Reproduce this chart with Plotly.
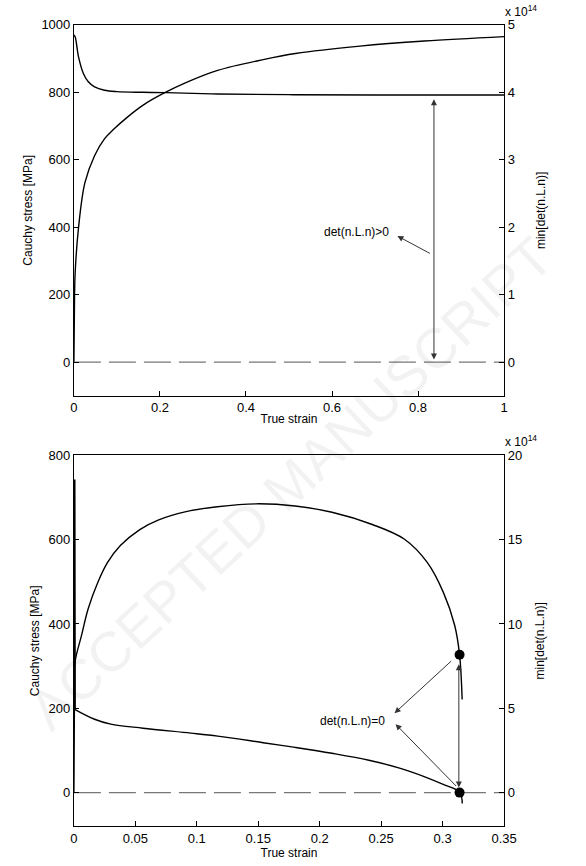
import plotly.graph_objects as go

# ---------------- data ----------------
# Top panel (strain 0..1)
top_stress_strain = [0, 0.0015, 0.003, 0.0106, 0.0256, 0.048, 0.071, 0.093, 0.123, 0.161, 0.21, 0.259, 0.334, 0.44, 0.515, 0.665, 0.815, 1.0]
top_stress = [0, 200, 268, 397, 532, 612, 662, 691, 725, 762, 798, 828, 865, 897, 915, 937, 952, 965]
top_det_strain = [0, 0.003, 0.0106, 0.022, 0.033, 0.048, 0.071, 0.1, 0.161, 0.214, 0.334, 0.5, 0.7, 1.0]
top_det = [4.85, 4.82, 4.53, 4.28, 4.16, 4.08, 4.03, 4.01, 4.0, 3.995, 3.975, 3.965, 3.96, 3.96]  # x 1e14

# Bottom panel (strain 0..0.35)
bot_stress_strain = [0, 0.0005, 0.001, 0.0063, 0.0116, 0.0195, 0.0274, 0.0378, 0.0536, 0.069, 0.0904, 0.1167, 0.148, 0.18, 0.21, 0.2428, 0.269, 0.2875, 0.3006, 0.3098, 0.3138, 0.3159]
bot_stress = [0, 250, 311, 374, 436, 499, 546, 586, 624, 647, 666, 678, 685, 680, 665, 636, 601, 546, 475, 397, 327, 221]
bot_det_strain = [0, 0.0003, 0.0006, 0.0168, 0.03, 0.0562, 0.095, 0.117, 0.154, 0.18, 0.21, 0.24, 0.265, 0.285, 0.3, 0.3138, 0.316]
bot_det = [18.5, 18.5, 4.94, 4.35, 4.06, 3.82, 3.53, 3.35, 2.96, 2.68, 2.33, 1.92, 1.45, 0.95, 0.5, 0.03, -0.65]  # x 1e14

crit_strain = 0.3138
crit_stress = 327
crit_det = 0.0

top_x_ticks = [0, 0.2, 0.4, 0.6, 0.8, 1]
top_y_ticks = [0, 200, 400, 600, 800, 1000]
top_y2_ticks = [0, 1, 2, 3, 4, 5]
bot_x_ticks = [0, 0.05, 0.1, 0.15, 0.2, 0.25, 0.3, 0.35]
bot_y_ticks = [0, 200, 400, 600, 800]
bot_y2_ticks = [0, 5, 10, 15, 20]

W, H = 586, 866
FONT = "Liberation Sans, Arial, Helvetica, sans-serif"
line = dict(color="black", width=1.4)
dash = dict(color="#777777", width=1.2, dash="27px,8px")
SM = 1.0

fig = go.Figure()

# Top panel traces
fig.add_trace(go.Scatter(x=[0, 1], y=[0, 0], mode="lines", line=dash, xaxis="x", yaxis="y2"))
fig.add_trace(go.Scatter(x=top_stress_strain, y=top_stress, mode="lines", line=line, xaxis="x", yaxis="y",
                         line_shape="spline", line_smoothing=SM))
fig.add_trace(go.Scatter(x=top_det_strain, y=top_det, mode="lines", line=line, xaxis="x", yaxis="y2",
                         line_shape="spline", line_smoothing=SM))

# Bottom panel traces
fig.add_trace(go.Scatter(x=[0, 0.35], y=[0, 0], mode="lines", line=dash, xaxis="x2", yaxis="y4"))
fig.add_trace(go.Scatter(x=bot_stress_strain, y=bot_stress, mode="lines", line=line, xaxis="x2", yaxis="y3",
                         line_shape="spline", line_smoothing=SM))
fig.add_trace(go.Scatter(x=bot_det_strain[:3], y=bot_det[:3], mode="lines",
                         line=dict(color="black", width=2.5), xaxis="x2", yaxis="y4"))
fig.add_trace(go.Scatter(x=bot_det_strain[2:], y=bot_det[2:], mode="lines", line=line, xaxis="x2", yaxis="y4",
                         line_shape="spline", line_smoothing=SM))
fig.add_trace(go.Scatter(x=[crit_strain], y=[crit_stress], mode="markers", marker=dict(color="black", size=10),
                         xaxis="x2", yaxis="y3"))
fig.add_trace(go.Scatter(x=[crit_strain], y=[crit_det], mode="markers", marker=dict(color="black", size=10),
                         xaxis="x2", yaxis="y4"))

xdom = [72 / W, 515 / W]
top_dom = [1 - 392 / H, 1 - 18 / H]
bot_dom = [1 - 826 / H, 1 - 452 / H]

ax_common = dict(showgrid=False, zeroline=False, showline=True, linecolor="black", linewidth=1,
                 ticks="inside", ticklen=5, tickcolor="black",
                 tickfont=dict(family=FONT, size=13, color="black"))

fig.update_layout(
    width=W, height=H, margin=dict(l=0, r=0, t=0, b=0),
    paper_bgcolor="white", plot_bgcolor="rgba(0,0,0,0)", showlegend=False,
    font=dict(family=FONT, size=13, color="black"),
    xaxis=dict(domain=xdom, anchor="y", range=[0, 1], tickvals=top_x_ticks, mirror=True,
               title=dict(text="True strain", font=dict(size=12), standoff=0), **ax_common),
    yaxis=dict(domain=top_dom, anchor="x", range=[-100, 1000], tickvals=top_y_ticks, mirror=True,
               title=dict(text="Cauchy stress [MPa]", font=dict(size=12), standoff=6), **ax_common),
    yaxis2=dict(overlaying="y", side="right", anchor="x", range=[-0.5, 5], tickvals=top_y2_ticks,
                title=dict(text="min[det(n.L.n)]", font=dict(size=12), standoff=22), **ax_common),
    xaxis2=dict(domain=xdom, anchor="y3", range=[0, 0.35], tickvals=bot_x_ticks, mirror=True,
                ticktext=[str(v) for v in bot_x_ticks],
                title=dict(text="True strain", font=dict(size=12), standoff=0), **ax_common),
    yaxis3=dict(domain=bot_dom, anchor="x2", range=[-80, 800], tickvals=bot_y_ticks, mirror=True,
                title=dict(text="Cauchy stress [MPa]", font=dict(size=12), standoff=6), **ax_common),
    yaxis4=dict(overlaying="y3", side="right", anchor="x2", range=[-2, 20], tickvals=bot_y2_ticks,
                title=dict(text="min[det(n.L.n)]", font=dict(size=12), standoff=14), **ax_common),
)

ann = []
# faint watermark
ann.append(dict(text="ACCEPTED MANUSCRIPT", xref="paper", yref="paper", x=295 / W, y=1 - 480 / H,
                showarrow=False, textangle=-43, font=dict(family=FONT, size=56, color="rgba(0,0,0,0.05)")))
# x10^14 labels
ann.append(dict(text="x 10<sup>14</sup>", xref="paper", yref="paper", x=514 / W, y=1 - 14 / H,
                xanchor="left", yanchor="bottom", showarrow=False, font=dict(size=12)))
ann.append(dict(text="x 10<sup>14</sup>", xref="paper", yref="paper", x=514 / W, y=1 - 448 / H,
                xanchor="left", yanchor="bottom", showarrow=False, font=dict(size=12)))

arrow = dict(showarrow=True, arrowcolor="#333333", arrowwidth=1, arrowsize=1.2, arrowhead=2, text="")
# top: vertical double arrow
ann.append(dict(x=0.837, y=0.04, ax=0.837, ay=3.92, xref="x", yref="y2", axref="x", ayref="y2",
                arrowside="end+start", **arrow))
# top: diagonal arrow to label
ann.append(dict(x=0.752, y=1.87, ax=0.831, ay=1.60, xref="x", yref="y2", axref="x", ayref="y2", **arrow))
ann.append(dict(text="det(n.L.n)>0", x=0.738, y=1.93, xref="x", yref="y2", xanchor="right",
                showarrow=False, font=dict(size=12)))

# bottom: vertical double arrow
ann.append(dict(x=0.3132, y=0.3, ax=0.3132, ay=7.7, xref="x2", yref="y4", axref="x2", ayref="y4",
                arrowside="end+start", **arrow))
ann.append(dict(x=0.2609, y=4.71, ax=0.3082, ay=7.88, xref="x2", yref="y4", axref="x2", ayref="y4", **arrow))
ann.append(dict(x=0.2617, y=4.06, ax=0.3122, ay=0.3, xref="x2", yref="y4", axref="x2", ayref="y4", **arrow))
ann.append(dict(text="det(n.L.n)=0", x=0.2546, y=4.24, xref="x2", yref="y4", xanchor="right",
                showarrow=False, font=dict(size=12)))

fig.update_layout(annotations=ann)
fig.write_html("out.html")
